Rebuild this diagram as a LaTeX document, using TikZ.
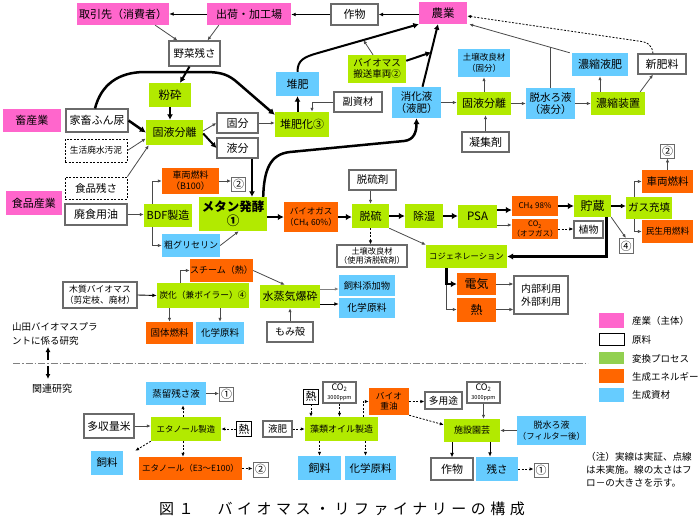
\documentclass[tikz,border=0pt]{standalone}
\usepackage{fontspec}
\setmainfont{Noto Sans CJK JP}
\newfontfamily\capfont[LetterSpace=30]{Noto Sans CJK JP}
\usetikzlibrary{arrows.meta,calc}
\definecolor{pinkc}{HTML}{FF66CC}
\definecolor{greenc}{HTML}{B2EA00}
\definecolor{orangec}{HTML}{FF6600}
\definecolor{bluec}{HTML}{66CCFF}
\definecolor{leggreen}{HTML}{92D050}
\definecolor{bordc}{HTML}{6A6A6A}
\definecolor{linec}{HTML}{4A4A4A}
\tikzset{
 fs/.style={font=\fontsize{#1}{#1}\selectfont},
 fl/.style 2 args={font=\fontsize{#1}{#2}\selectfont},
 nb/.style 2 args={inner sep=0pt, align=center, minimum width=#1pt, minimum height=#2pt},
 boxW/.style 2 args={nb={#1}{#2}, fill=white, draw=bordc, line width=1.1pt},
 boxD/.style 2 args={nb={#1}{#2}, fill=white, draw=black, line width=0.9pt, dash pattern=on 2pt off 1.5pt},
 boxP/.style 2 args={nb={#1}{#2}, fill=pinkc},
 boxG/.style 2 args={nb={#1}{#2}, fill=greenc},
 boxO/.style 2 args={nb={#1}{#2}, fill=orangec},
 boxB/.style 2 args={nb={#1}{#2}, fill=bluec},
 numbox/.style={inner sep=0pt, minimum width=14pt, minimum height=14pt, fill=white, draw=bordc, line width=0.8pt, font=\fontsize{11}{11}\selectfont},
 aThin/.style={draw=linec, line width=0.8pt, -{Latex[length=4pt,width=3.4pt]}},
 aBlk/.style={draw=black, line width=0.9pt, -{Latex[length=4.5pt,width=3.8pt]}},
 aDash/.style={draw=black, line width=0.8pt, dash pattern=on 2pt off 1.5pt, -{Latex[length=4pt,width=3.4pt]}},
 aMid/.style={draw=black, line width=1.5pt, -{Latex[length=5pt,width=5pt]}},
 aFat2/.style={draw=black, line width=2pt, -{Latex[length=5.5pt,width=6pt]}},
 aFat/.style={draw=black, line width=2.5pt, -{Latex[length=6pt,width=6.5pt]}},
 lineOnly/.style={draw=linec, line width=0.8pt},
}
\begin{document}
\begin{tikzpicture}[x=1pt,y=-1pt]
\fill[white] (0,0) rectangle (699,530);
\useasboundingbox (0,0) rectangle (699,530);

% ---------- top section ----------
\node[boxP={92}{22}, fs=11] (torihiki) at (123,14) {取引先（消費者）};
\node[boxP={84}{22}, fs=11] (shukka) at (249,14) {出荷・加工場};
\node[boxW={47}{21}, fs=11] (sakumotsu) at (354.5,14.5) {作物};
\node[boxP={48}{22}, fs=11.5] (nougyou) at (443,13) {農業};
\node[boxW={51}{25}, fs=10.5] (yasai) at (194.5,53.5) {野菜残さ};
\node[boxG={42}{24}, fs=11.5] (funsai) at (170,95) {粉砕};
\node[boxP={58}{23}, fs=11] (chikusan) at (32,120.5) {畜産業};
\node[boxW={62}{23}, fs=11] (kachiku) at (97,120.5) {家畜ふん尿};
\node[boxG={57}{25}, fs=11] (koeki1) at (174.5,132.5) {固液分離};
\node[boxD={62}{23}, fs=8.7] (seikatsu) at (96,150.5) {生活廃水汚泥};
\node[boxW={41}{20}, fs=11] (kobun) at (237.5,123) {固分};
\node[boxW={41}{20}, fs=11] (ekibun) at (237.5,148) {液分};
\node[boxG={54}{25}, fs=11] (taihika) at (302,124.5) {堆肥化③};
\node[boxB={43}{24}, fs=11] (taihi) at (297.5,84) {堆肥};
\node[boxW={48}{20}, fs=10.2] (fukushizai) at (358,102) {副資材};
\node[boxG={58}{28}, fs=9.5] (hanso) at (377,69) {バイオマス\\[1.5pt]搬送車両②};
\node[boxB={49}{31}, fs=10.5] (shoka) at (416.5,102.5) {消化液\\[2pt]（液肥）};
\node[boxG={54}{23}, fs=11] (koeki2) at (484,103.5) {固液分離};
\node[boxB={52}{28}, fs=8.5] (dojo1) at (484,63) {土壌改良材\\[2pt]（固分）};
\node[boxW={47}{20}, fs=11] (gyoshu) at (485.5,142) {凝集剤};
\node[boxB={49}{31}, fs=10.5] (dassui) at (550.5,103.5) {脱水ろ液\\[2pt]（液分）};
\node[boxG={54}{23}, fs=11] (noshuku) at (618,103.5) {濃縮装置};
\node[boxB={56}{23}, fs=11] (noekihi) at (600,64.5) {濃縮液肥};
\node[boxW={48}{20}, fs=11] (shinhiryo) at (662,64) {新肥料};

% ---------- middle section ----------
\node[boxP={56}{24}, fs=11] (shokuhin) at (34,203) {食品産業};
\node[boxD={62}{22}, fs=10.5] (shokuzan) at (96,188) {食品残さ};
\node[boxW={62}{21}, fs=11] (haishoku) at (96,214.5) {廃食用油};
\node[boxG={48}{23}, fs=11] (bdf) at (168,215.5) {BDF製造};
\node[boxO={57}{26}, fs=9] (sharyo1) at (190.5,181) {車両燃料\\[2pt]（B100）};
\node[numbox] (c2a) at (238.5,184) {②};
\node[boxB={58}{23}, fs=9] (glycerin) at (191,245.5) {粗グリセリン};
\node[boxG={68}{34}, fs=12.5] (methane) at (233,214) {\bfseries メタン発酵\\[1.5pt]\bfseries ①};
\node[boxO={54}{30}, fs=8.5] (biogas) at (311,217) {バイオガス\\[2pt]（CH\textsubscript{4} 60\%）};
\node[boxG={37}{24}, fs=11] (datsuryu) at (370.5,216) {脱硫};
\node[boxW={47}{20}, fs=10.5] (datsuryuzai) at (372.5,180) {脱硫剤};
\node[boxG={38}{24}, fs=11] (joshitsu) at (424,216) {除湿};
\node[boxG={39}{23}, fs=11.5] (psa) at (477.5,216.5) {PSA};
\node[boxO={46}{20}, fs=8] (ch4) at (535,206) {CH\textsubscript{4} 98\%};
\node[boxO={46}{20}, fs=7.5] (co2) at (535,229) {CO\textsubscript{2}\\[0.5pt]（オフガス）};
\node[boxW={29}{17}, fs=10] (shokubutsu) at (588.5,229.5) {植物};
\node[boxG={37}{22}, fs=12] (chozo) at (592.5,206) {貯蔵};
\node[boxG={46}{22}, fs=10.5] (gasjuten) at (649,208) {ガス充填};
\node[boxO={51}{23}, fs=10.5] (sharyo2) at (667.5,181.5) {車両燃料};
\node[numbox] (c2b) at (667.5,151) {②};
\node[boxO={51}{23}, fs=8.7] (minsei) at (667.5,231.5) {民生用燃料};
\node[numbox, minimum height=15pt] (c4a) at (626,246) {④};
\node[boxG={81}{23}, fs=8.3] (cogen) at (466.5,256.5) {コジェネレーション};
\node[boxW={70}{22}, fs=8.2] (dojo2) at (372,256) {土壌改良材\\[1.5pt]（使用済脱硫剤）};
\node[boxO={39}{22}, fs=12] (denki) at (476.5,284) {電気};
\node[boxO={39}{24}, fs=12] (netsu) at (476.5,309.5) {熱};
\node[boxW={54}{38}, fs=10] (riyo) at (541,295) {内部利用\\[3pt]外部利用};

% ---------- lower middle ----------
\node[boxW={74}{26}, fs=8.8] (mokushitsu) at (100,295) {木質バイオマス\\[2pt]（剪定枝、廃材）};
\node[boxG={92}{25}, fs=8.7] (tanka) at (203,295.5) {炭化（兼ボイラー）④};
\node[boxO={63}{23}, fs=9] (steam) at (221.5,270.5) {スチーム（熱）};
\node[boxO={47}{22}, fs=9.5] (kotai) at (169.5,333) {固体燃料};
\node[boxB={48}{22}, fs=9.5] (kagaku1) at (220,333) {化学原料};
\node[boxG={60}{23}, fs=11] (suijoki) at (290,296.5) {水蒸気爆砕};
\node[boxW={46}{20}, fs=10] (momi) at (290,332) {もみ殻};
\node[boxB={56}{21}, fs=9.3] (shiryotenka) at (367,285.5) {飼料添加物};
\node[boxB={56}{20}, fs=9.8] (kagaku2) at (367,308) {化学原料};

% ---------- legend ----------
\node[boxP={25}{15}] (lg1) at (611.5,320.5) {};
\node[nb={25}{12}, fill=white, draw=black, line width=1pt] (lg2) at (611.5,339) {};
\node[nb={25}{12}, fill=leggreen] (lg3) at (611.5,358) {};
\node[nb={25}{14}, fill=orangec] (lg4) at (611.5,376) {};
\node[nb={25}{14}, fill=bluec] (lg5) at (611.5,395) {};
\node[anchor=west, inner sep=0pt, fs=9.5] (lt1) at (632,320.5) {産業（主体）};
\node[anchor=west, inner sep=0pt, fs=9.5] (lt2) at (632,340) {原料};
\node[anchor=west, inner sep=0pt, fs=9.5] (lt3) at (632,358.5) {変換プロセス};
\node[anchor=west, inner sep=0pt, fs=9.5] (lt4) at (632,376.5) {生成エネルギー};
\node[anchor=west, inner sep=0pt, fs=9.5] (lt5) at (632,395) {生成資材};

% ---------- separator ----------
\node[anchor=west, align=left, inner sep=0pt, fl={9.5}{13.5}] (yamada) at (12,334) {山田バイオマスプラ\\ントに係る研究};
\coordinate (u1) at (48,360); \coordinate (u2) at (48,347);
\coordinate (d1) at (48,366); \coordinate (d2) at (48,379);
\draw[aMid] (u1) -- (u2);
\draw[aMid] (d1) -- (d2);
\node[fs=10, inner sep=0pt] (kanren) at (52,389) {関連研究};
\coordinate (sep1) at (13,363); \coordinate (sep2) at (588,363);
\draw[draw=gray, line width=1pt, dash pattern=on 7pt off 2pt on 1.5pt off 2pt] (sep1) -- (sep2);

% ---------- lower section ----------
\node[boxB={60}{23}, fs=9.5] (joryu) at (176,393.5) {蒸留残さ液};
\node[numbox] (c1a) at (226.5,394) {①};
\node[boxW={50}{24}, fs=10.8] (tashuryo) at (109,426) {多収量米};
\node[boxG={70}{24}, fs=8.4] (ethanol) at (186,429) {エタノール製造};
\node[boxW={15}{15}, fs=11, line width=0.9pt, draw=black] (netsu2) at (244,429) {熱};
\node[boxB={32}{24}, fs=10.5] (shiryo1) at (107,463) {飼料};
\node[boxO={103}{23}, fs=8.5] (ethanolE) at (190.5,468.5) {エタノール（E3～E100）};
\node[numbox, minimum width=15pt, minimum height=15pt] (c2c) at (260.5,469.5) {②};
\node[boxW={15}{15}, fs=11, line width=0.9pt, draw=black] (netsu3) at (311,396.5) {熱};
\node[boxW={33}{21}, fs=9] (co2a) at (339.5,392.5) {CO\textsubscript{2}\\[0.5pt]{\fontsize{5.5}{5.5}\selectfont 3000ppm}};
\node[boxW={29}{16}, fs=9.5] (ekihi) at (277.5,429) {液肥};
\node[boxG={73}{24}, fs=9] (sorui) at (341.5,429) {藻類オイル製造};
\node[boxB={43}{24}, fs=11] (shiryo2) at (319.5,468) {飼料};
\node[boxB={51}{24}, fs=10.5] (kagaku3) at (370.5,468) {化学原料};
\node[boxO={40}{27}, fs=8.7] (bioheavy) at (389,401.5) {バイオ\\[1.5pt]重油};
\node[boxW={37}{17}, fs=9.7] (tayoto) at (443.5,400.5) {多用途};
\node[boxW={33}{21}, fs=9] (co2b) at (483.5,392.5) {CO\textsubscript{2}\\[0.5pt]{\fontsize{5.5}{5.5}\selectfont 3000ppm}};
\node[boxG={56}{23}, fs=9] (shisetsu) at (472,430.5) {施設園芸};
\node[boxB={69}{29}, fs=8.4] (dassui2) at (551.5,430.5) {\fontsize{9}{9}\selectfont 脱水ろ液\\[2pt]（フィルター後）};
\node[boxW={42}{22}, fs=11] (sakumotsu2) at (452,469) {作物};
\node[boxB={42}{24}, fs=10.5] (zansa) at (497,469) {残さ};
\node[numbox] (c1b) at (541,470) {①};

\node[anchor=north west, align=left, inner sep=0pt, fl={9.6}{13}] (note) at (586,452) {（注）実線は実証、点線\\は未実施。線の太さはフ\\ロ－の大きさを示す。};

\node[anchor=west, inner sep=0pt, font=\capfont\fontsize{15}{15}\selectfont] (cap) at (159,509) {図１　バイオマス・リファイナリーの構成};

% ================= connectors =================
% top
\draw[aBlk] (shukka.west) -- (torihiki.east);
\draw[aBlk] (sakumotsu.west) -- (sakumotsu.west -| shukka.east);
\draw[aBlk] (sakumotsu.east -| nougyou.west) -- (sakumotsu.east);
\draw[aThin] ([xshift=-14pt]torihiki.south east) -- ([xshift=-17pt]yasai.north);
\draw[aThin] ([xshift=12pt]shukka.south west) -- ([xshift=13pt]yasai.north);
\draw[aFat2] ([xshift=-5pt]yasai.south) -- ([xshift=10pt]funsai.north);
\draw[aFat2] (funsai.south) -- (funsai.south |- koeki1.north);
\draw[aFat] ([xshift=-2pt]kachiku.north) .. controls (101,85) and (118,72) .. (145,72) -- (205,72) .. controls (222,72) and (229,75) .. (238,83) -- ([yshift=-3pt]taihika.north west);
\draw[aFat] (kachiku.east) -- (koeki1.west);
\draw[aThin] (seikatsu.east) -- ([yshift=-6pt]koeki1.west);
\draw[aThin] (shokuzan.north east) -- ([xshift=3pt]koeki1.south west);
\draw[aThin] ([yshift=1.5pt]koeki1.east) -- (kobun.west);
\draw[aFat2] ([yshift=-1pt]koeki1.east) -- (ekibun.west);
\draw[aThin] (kobun.east) -- (kobun.east -| taihika.west);
\coordinate (lq) at ([xshift=14.5pt]ekibun.south);
\draw[aFat2] (lq) -- (lq |- methane.north);
\draw[aFat2] (taihika.north -| taihi.south) -- (taihi.south);
\draw[aThin] (fukushizai.west) -| ([xshift=10pt]taihika.north);
\coordinate (tb) at (318,53);
\draw[aFat2] (taihi.north) .. controls (297.5,60) and (304,57) .. (tb) -- (nougyou.south west);
\coordinate (s1) at ([xshift=6pt]shoka.north);
\coordinate (s2) at ([xshift=-5pt]nougyou.south);
\draw[aFat2] (s1) -- (s2);
\draw[aFat2] ([yshift=-6pt]hanso.north east) -- ($(s1)!0.55!(s2)$);
\draw[aThin] ([xshift=-4pt]hanso.north) -- ($(tb)!0.45!(nougyou.south west)$);
\draw[aThin] (shoka.east) -- (shoka.east -| koeki2.west);
\draw[aThin] (koeki2.north) -- (dojo1.south);
\draw[aThin] (gyoshu.north) -- (gyoshu.north |- koeki2.south);
\draw[aThin] (koeki2.east) -- (koeki2.east -| dassui.west);
\draw[aThin] (dassui.east) -- (dassui.east -| noshuku.west);
\draw[aThin] (noekihi.south |- noshuku.north) -- (noekihi.south);
\draw[aThin] ([xshift=-5pt]noshuku.north east) -- ([xshift=-9pt]shinhiryo.south);
\coordinate (nk) at ([xshift=2pt]nougyou.south east);
\draw[aThin] ([xshift=-2pt]noekihi.north west) -- (nk);
\coordinate (jd) at ($(noekihi.north west)!0.21!(nougyou.south east)$);
\draw[lineOnly] (dassui.north) -- (dassui.north |- jd);
\draw[aDash] ([xshift=-9pt]shinhiryo.north) .. controls (652,45) and (648,42) .. (638,41) -- ([yshift=-3pt]nougyou.east);

% middle
\draw[aThin] (haishoku.east) -- (haishoku.east -| bdf.west);
\draw[aThin] ([xshift=-16pt]bdf.north) |- (sharyo1.west);
\draw[aThin] ([xshift=-16pt]bdf.south) |- (glycerin.west);
\draw[aThin] (sharyo1.east) -- (sharyo1.east -| c2a.west);
\draw[aThin] (glycerin.east) -- ([xshift=40pt]methane.south west);
\draw[aFat] ([xshift=-4pt]methane.north east) .. controls (264,170) and (270,154) .. (290,152) -- (404,141) .. controls (414,140) and (416.5,132) .. (shoka.south);
\draw[aFat] (methane.east |- biogas.west) -- (biogas.west);
\draw[aFat] (biogas.east) -- (biogas.east -| datsuryu.west);
\draw[aThin] (datsuryu.north |- datsuryuzai.south) -- (datsuryu.north);
\draw[aDash] (datsuryu.south) -- (datsuryu.south |- dojo2.north);
\draw[aFat] (datsuryu.east) -- (joshitsu.west);
\draw[aFat] (joshitsu.east) -- (joshitsu.east -| psa.west);
\draw[aThin] (datsuryu.south east) -- (cogen.north west);
\coordinate (p1) at ([yshift=6.5pt]psa.east);
\coordinate (p2) at ([yshift=-8.5pt]psa.east);
\draw[aFat] (p1) -- (p1 -| ch4.west);
\draw[aThin] (p2) -- (p2 -| co2.west);
\draw[aDash] (co2.east) -- (co2.east -| shokubutsu.west);
\draw[aFat] (ch4.east) -- (ch4.east -| chozo.west);
\draw[aMid] (chozo.east) -- (chozo.east -| gasjuten.west);
\draw[aThin] (chozo.south east) -- (c4a.north);
\draw[aFat] ([xshift=14pt]chozo.south) |- (cogen.east);
\draw[aThin] ([xshift=-15pt]gasjuten.north) |- (sharyo2.west);
\draw[aThin] ([xshift=-15pt]gasjuten.south) |- (minsei.west);
\draw[aThin] (sharyo2.north) -- (c2b.south);
\draw[aThin] ([xshift=-20pt]cogen.south) |- (netsu.west);
\draw[aFat] ([xshift=-20pt]cogen.south) |- (denki.west);
\draw[aThin] (denki.east) -- (denki.east -| riyo.west);
\draw[aThin] (netsu.east) -- (netsu.east -| riyo.west);

% lower middle
\draw[aBlk] (mokushitsu.east) -- (tanka.west);
\draw[aThin] ([xshift=-23pt]tanka.north) |- (steam.west);
\draw[aThin] (kotai.north |- tanka.south) -- (kotai.north);
\draw[aThin] (kagaku1.north |- tanka.south) -- (kagaku1.north);
\draw[aThin] (steam.east) -- ([xshift=25pt]suijoki.north west);
\draw[aThin] (momi.north) -- (suijoki.south);
\coordinate (q1) at ([yshift=7.5pt]suijoki.east);
\coordinate (q2) at ([yshift=-7.5pt]suijoki.east);
\draw[aThin, draw=gray] (q1) -- (q1 -| shiryotenka.west);
\draw[aBlk] (q2) -- (q2 -| kagaku2.west);

% lower section
\draw[aThin] (tashuryo.east) -- (tashuryo.east -| ethanol.west);
\coordinate (e1) at ([xshift=-3pt]ethanol.north);
\draw[aDash] (e1) -- (e1 |- joryu.south);
\draw[aThin] (joryu.east) -- (joryu.east -| c1a.west);
\draw[aDash] (netsu2.west) -- (ethanol.east);
\draw[aDash] (ethanol.south west) -- ([xshift=12pt]shiryo1.north east);
\coordinate (e2) at ([xshift=-3pt]ethanol.south);
\draw[aDash] (e2) -- (e2 |- ethanolE.north);
\draw[aDash] (ethanolE.east) -- (ethanolE.east -| c2c.west);
\draw[aDash] (netsu3.south) -- (netsu3.south |- sorui.north);
\draw[aDash] (co2a.south) -- (co2a.south |- sorui.north);
\draw[aDash] (ekihi.east) -- (sorui.west);
\draw[aDash] (shiryo2.north |- sorui.south) -- (shiryo2.north);
\coordinate (e3) at ([xshift=-5pt]kagaku3.north);
\draw[aDash] (e3 |- sorui.south) -- (e3);
\draw[aDash] ([xshift=21.5pt]sorui.north) |- (bioheavy.west);
\draw[aDash] (bioheavy.east) -- (bioheavy.east -| tayoto.west);
\draw[aDash] (bioheavy.south east) -- ([yshift=-6pt]shisetsu.north west);
\draw[aThin] (co2b.south) -- (co2b.south |- shisetsu.north);
\draw[aThin] (dassui2.west) -- (dassui2.west -| shisetsu.east);
\draw[aBlk] (sakumotsu2.north |- shisetsu.south) -- (sakumotsu2.north);
\coordinate (e5) at ([xshift=-7pt]zansa.north);
\draw[aBlk] (e5 |- shisetsu.south) -- (e5);
\draw[aDash] (zansa.east) -- (zansa.east -| c1b.west);
\end{tikzpicture}
\end{document}
